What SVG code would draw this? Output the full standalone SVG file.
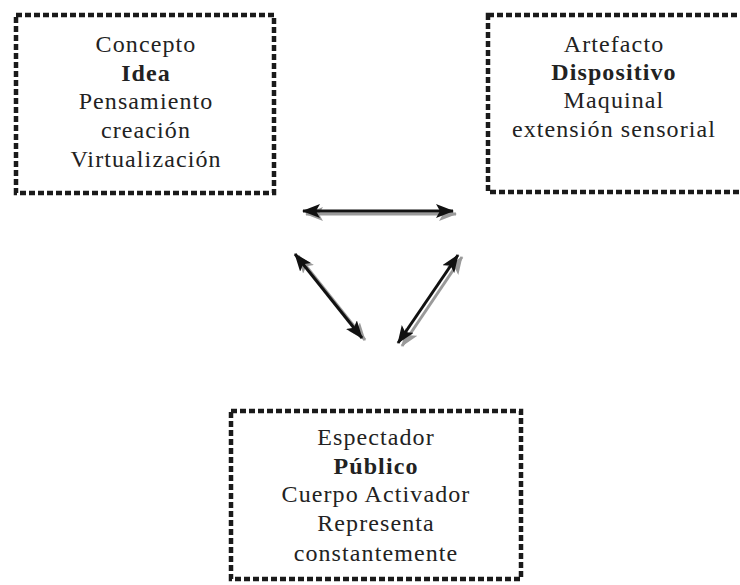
<svg xmlns="http://www.w3.org/2000/svg" width="740" height="585" viewBox="0 0 740 585">
<defs>
<style>
.box{fill:none;stroke:#1a1a1a;stroke-width:4.5;stroke-dasharray:6 3}
.ln{stroke:#111;stroke-width:3;fill:none}
.sh{stroke:#9a9a9a;stroke-width:3;fill:none}
</style>
<marker id="ah" viewBox="0 0 18 14" refX="17" refY="7" markerWidth="18" markerHeight="14" markerUnits="userSpaceOnUse" orient="auto-start-reverse">
<path d="M0,0 L18,7 L0,14 L4,7 Z" fill="#111"/>
</marker>
<marker id="ahs" viewBox="0 0 18 14" refX="17" refY="7" markerWidth="18" markerHeight="14" markerUnits="userSpaceOnUse" orient="auto-start-reverse">
<path d="M0,0 L18,7 L0,14 L4,7 Z" fill="#9a9a9a"/>
</marker>
</defs>
<rect width="740" height="585" fill="#fff"/>
<g id="concepto" font-family="Liberation Serif, Times New Roman, serif" font-size="24" fill="#222" text-anchor="middle" letter-spacing="1.1">
<rect class="box" x="16" y="15" width="258" height="178"/>
<text x="146" y="52">Concepto</text>
<text font-weight="bold" x="146" y="81">Idea</text>
<text x="146" y="109">Pensamiento</text>
<text x="146" y="138">creación</text>
<text x="146" y="167">Virtualización</text>
</g>
<g id="artefacto" font-family="Liberation Serif, Times New Roman, serif" font-size="24" fill="#222" text-anchor="middle" letter-spacing="1.1">
<rect class="box" x="488" y="15" width="262" height="177"/>
<text x="614" y="52">Artefacto</text>
<text font-weight="bold" x="614" y="80">Dispositivo</text>
<text x="614" y="108">Maquinal</text>
<text x="614" y="137">extensión sensorial</text>
</g>
<g id="espectador" font-family="Liberation Serif, Times New Roman, serif" font-size="24" fill="#222" text-anchor="middle" letter-spacing="1.1">
<rect class="box" x="231" y="411" width="290" height="168"/>
<text x="376" y="445">Espectador</text>
<text font-weight="bold" x="376" y="474">Público</text>
<text x="376" y="502">Cuerpo Activador</text>
<text x="376" y="531">Representa</text>
<text x="376" y="561">constantemente</text>
</g>
<g id="connectors">
<line class="sh" x1="306" y1="214" x2="456" y2="214" marker-start="url(#ahs)" marker-end="url(#ahs)"/>
<line class="ln" x1="303" y1="211" x2="453" y2="211" marker-start="url(#ah)" marker-end="url(#ah)"/>
<line class="sh" x1="298" y1="256" x2="365" y2="340" marker-start="url(#ahs)" marker-end="url(#ahs)"/>
<line class="ln" x1="295" y1="254" x2="362" y2="338" marker-start="url(#ah)" marker-end="url(#ah)"/>
<line class="sh" x1="462" y1="257" x2="402" y2="346" marker-start="url(#ahs)" marker-end="url(#ahs)"/>
<line class="ln" x1="458" y1="255" x2="398" y2="343" marker-start="url(#ah)" marker-end="url(#ah)"/>
</g>
</svg>
